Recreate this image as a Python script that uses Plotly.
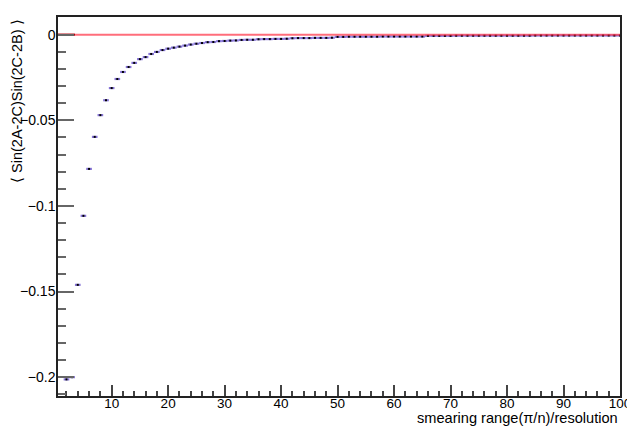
import plotly.graph_objects as go

# ---- data ----
x_vals = list(range(2, 101))
y_vals = [
    -0.2013, -0.2000, -0.1461, -0.1058, -0.0784, -0.0597, -0.0470, -0.0383, -0.0312,  # 2-10
    -0.0259, -0.0218, -0.0189, -0.0165, -0.0143, -0.0131, -0.0113, -0.0101, -0.0090, -0.0082,  # 11-20
    -0.0076, -0.0070, -0.0064, -0.0058, -0.0053, -0.0049, -0.0044, -0.0043, -0.0038, -0.0037,  # 21-30
    -0.0035, -0.0034, -0.0031, -0.0030, -0.0030, -0.0027, -0.0026, -0.0026, -0.0025, -0.0025,  # 31-40
    -0.0024, -0.0021, -0.0020, -0.0020, -0.0020, -0.0019, -0.0019, -0.0019, -0.0018, -0.0013,  # 41-50
    -0.0013, -0.0012, -0.0012, -0.0012, -0.0012, -0.0012, -0.0012, -0.0011, -0.0011, -0.0011,  # 51-60
    -0.0011, -0.0011, -0.0011, -0.0011, -0.0011, -0.0007, -0.0007, -0.0007, -0.0007, -0.0007,  # 61-70
    -0.0006, -0.0006, -0.0006, -0.0006, -0.0006, -0.0006, -0.0006, -0.0006, -0.0006, -0.0006,  # 71-80
    -0.0006, -0.0006, -0.0006, -0.0006, -0.0005, -0.0005, -0.0005, -0.0005, -0.0005, -0.0005,  # 81-90
    -0.0005, -0.0005, -0.0005, -0.0005, -0.0005, -0.0005, -0.0005, -0.0005, -0.0005, -0.0005,  # 91-100
]
x_half_width = [0.5] * len(x_vals)

ref_line_x = [0.5, 100]
ref_line_y = [0, 0]
ref_dark_x = [0.5, 3.5]
ref_dark_y = [0, 0]

x_tickvals = [10, 20, 30, 40, 50, 60, 70, 80, 90, 100]
x_ticktext = ["10", "20", "30", "40", "50", "60", "70", "80", "90", "100"]
y_tickvals = [0, -0.05, -0.1, -0.15, -0.2]
y_ticktext = ["0", "\u22120.05", "\u22120.1", "\u22120.15", "\u22120.2"]

x_title = "smearing range(\u03c0/n)/resolution"
y_title = "\u27e8 Sin(2A-2C)Sin(2C-2B) \u27e9"

FONT = "Liberation Sans, Arial, Helvetica, sans-serif"

fig = go.Figure()

fig.add_trace(go.Scatter(
    x=x_vals, y=y_vals, mode="markers",
    marker=dict(symbol="square", size=2, color="black", line=dict(width=0)),
    error_x=dict(type="data", array=x_half_width, symmetric=True,
                 color="#8573d6", thickness=2.2, width=0),
    showlegend=False, hoverinfo="x+y",
))

fig.add_trace(go.Scatter(
    x=ref_line_x, y=ref_line_y, mode="lines",
    line=dict(color="rgba(255,40,60,0.68)", width=2),
    showlegend=False, hoverinfo="skip",
))
fig.add_trace(go.Scatter(
    x=ref_dark_x, y=ref_dark_y, mode="lines",
    line=dict(color="#a00008", width=2),
    showlegend=False, hoverinfo="skip",
))

# page body has an 8px default margin; compensate so the plot frame lands
# at the same pixels as the reference (frame: x 58..620, y 17..396)
fig.update_layout(
    width=627, height=427,
    margin=dict(l=50, r=15, t=9, b=39, autoexpand=False),
    paper_bgcolor="white", plot_bgcolor="white",
    font=dict(family=FONT, size=14, color="black"),
    xaxis=dict(
        range=[0.5, 100.001], showgrid=False, zeroline=False,
        tickmode="array", tickvals=x_tickvals, ticktext=x_ticktext,
        ticks="inside", ticklen=11, tickwidth=1.5, tickcolor="#444",
        minor=dict(tickmode="linear", tick0=0, dtick=2, ticks="inside",
                   ticklen=5, tickwidth=1.5, tickcolor="#444"),
        showline=True, mirror=True, linecolor="#222", linewidth=1.5,
        tickfont=dict(family=FONT, size=13.5, color="black"),
        ticklabelstandoff=-6, ticklabeloverflow="allow",
    ),
    yaxis=dict(
        range=[-0.211, 0.0103], showgrid=False, zeroline=False,
        tickmode="array", tickvals=y_tickvals, ticktext=y_ticktext,
        ticks="inside", ticklen=16, tickwidth=1.5, tickcolor="#666",
        minor=dict(tickmode="linear", tick0=0, dtick=0.01, ticks="inside",
                   ticklen=8, tickwidth=1.5, tickcolor="#666"),
        showline=True, mirror=True, linecolor="#222", linewidth=1.5,
        tickfont=dict(family=FONT, size=14, color="black"),
        ticklabelstandoff=-2,
    ),
    annotations=[
        dict(text=x_title, xref="paper", yref="paper", x=1.0, y=-0.059,
             xanchor="right", yanchor="middle", showarrow=False,
             font=dict(family=FONT, size=14.6, color="black")),
        dict(text=y_title, xref="paper", yref="paper", x=-0.073, y=1.0,
             xanchor="center", yanchor="top", textangle=-90, showarrow=False,
             font=dict(family=FONT, size=14.5, color="black")),
    ],
)

fig.write_html("out.html")
